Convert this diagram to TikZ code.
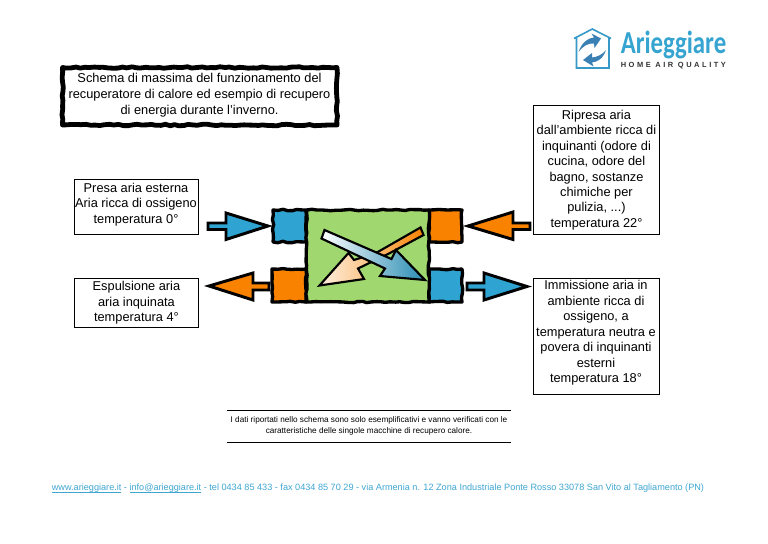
\documentclass[tikz,border=0pt]{standalone}
\usepackage{fontspec}
\setmainfont{Liberation Sans}
\newfontfamily\logofont{Carlito}
\usetikzlibrary{decorations.pathmorphing}
\definecolor{hvblue}{HTML}{2FA4D2}
\definecolor{hvorange}{HTML}{F98200}
\definecolor{hvgreen}{HTML}{A0D76F}
\definecolor{logoblue}{HTML}{35A4D0}
\definecolor{logodark}{HTML}{3B80B4}
\definecolor{footblue}{HTML}{3FA6D2}
\tikzset{
  infobox/.style={draw=black,line width=.7pt,fill=white,inner sep=0pt,align=center,
    font=\fontsize{9.6}{11.6}\selectfont,anchor=north west},
  rough/.style={draw=black,line width=2.5pt,line join=round,
    decorate,decoration={random steps,segment length=3.5pt,amplitude=.55pt}},
  flowarrow/.style={draw=black,line width=2.2pt,line join=miter,miter limit=6},
  innerarrow/.style={draw=black,line width=1.6pt,line join=miter,miter limit=6},
  rulefine/.style={draw=black,line width=.7pt},
  plain/.style={inner sep=0pt,align=center}
}
\pgfmathsetseed{7}
\begin{document}
\begin{tikzpicture}[x=.75pt,y=-.75pt]
\useasboundingbox[fill=white] (0,0) rectangle (768,543);

% logo
\draw[logoblue!70!logodark,line width=1.2pt,line join=miter] (574,38.5) -- (592.3,29) -- (611,38.5) (576.5,37.5) -- (576.5,68) -- (609,68) -- (609,37.5);
\fill[logodark] (578.5,52) .. controls (582,42) and (588,38) .. (594,37.5) -- (591.5,33.5) -- (601,38.5) -- (594.5,48) -- (594,43.5) .. controls (588,43) and (583,46) .. (578.5,52) -- cycle;
\fill[logodark] (606,50) .. controls (603,59) and (597,62) .. (592,62.5) -- (593.5,66.5) -- (583,60) -- (592,53) -- (592,57.5) .. controls (597,57) and (602,55) .. (606,50) -- cycle;
\node[plain,anchor=base west,text=logoblue] (brand) at (620.5,53.5) {\scalebox{.775}[1]{\logofont\bfseries\fontsize{24}{24}\selectfont Arieggiare}};
\node[plain,anchor=base west,text=black!80] (tagline) at (620.5,67) {\addfontfeature{LetterSpace=34}\bfseries\fontsize{5.6}{6}\selectfont HOME AIR QUALITY};

% title
\node[plain,fill=white,minimum width=274,minimum height=57,font=\fontsize{9.6}{12}\selectfont] (title) at (199.5,95) {Schema di massima del funzionamento del\\recuperatore di calore ed esempio di recupero\\di energia durante l’inverno.};
\draw[rough,line width=3.6pt] (62.5,67.5) rectangle (337,125);

% info boxes
\node[infobox,minimum width=124*.75pt,minimum height=55*.75pt] (presa) at (74,179) {};
\node[plain,font=\fontsize{9.6}{11.6}\selectfont] (presatext) at (136,204.5) {Presa aria esterna\\Aria ricca di ossigeno\\temperatura 0°};
\node[infobox,minimum width=124*.75pt,minimum height=49*.75pt] (espulsione) at (74,278) {Espulsione aria\\aria inquinata\\temperatura 4°};
\node[infobox,minimum width=126*.75pt,minimum height=129*.75pt] (ripresa) at (533,105) {Ripresa aria\\dall’ambiente ricca di\\inquinanti (odore di\\cucina, odore del\\bagno, sostanze\\chimiche per\\pulizia, ...)\\temperatura 22°};
\node[infobox,minimum width=126*.75pt,minimum height=116*.75pt] (immissione) at (533,278) {};
\node[plain,font=\fontsize{9.6}{11.6}\selectfont] (immissionetext) at (596,333) {Immissione aria in\\ambiente ricca di\\ossigeno, a\\temperatura neutra e\\povera di inquinanti\\esterni\\temperatura 18°};

% central unit
\draw[rough,fill=hvblue] (273,210) rectangle (306,242);
\draw[rough,fill=hvorange] (429,210) rectangle (462,242);
\draw[rough,fill=hvorange] (272,269) rectangle (306,302);
\draw[rough,fill=hvblue] (429,269) rectangle (462,302);
\draw[rough,fill=hvgreen] (306.5,210) rectangle (429,302);

% inner arrows
\draw[innerarrow,left color=hvorange!12!white,right color=hvorange,middle color=hvorange!50!white,shading angle=90]
  (420.5,227.5) -- (423.5,235) -- (390,253) -- (358,268.5) -- (364,279) -- (319.5,285.5) -- (348.5,253) -- (354,260) -- (376,253) -- cycle;
\draw[innerarrow,left color=white,right color=hvblue!85!black,shading angle=90]
  (324.5,230) -- (391.5,259) -- (396,250) -- (425,280) -- (380,276) -- (385,268.5) -- (321.5,238.5) -- cycle;

% flow arrows
\draw[flowarrow,fill=hvblue] (208,223) -- (226,223) -- (226,213) -- (268,226) -- (226,239.5) -- (226,229.5) -- (208,229.5) -- cycle;
\draw[flowarrow,fill=hvorange] (530,223) -- (513,223) -- (513,212) -- (468,226) -- (513,239.5) -- (513,229.5) -- (530,229.5) -- cycle;
\draw[flowarrow,fill=hvorange] (269,283) -- (253,283) -- (253,273) -- (209,286) -- (253,300) -- (253,290) -- (269,290) -- cycle;
\draw[flowarrow,fill=hvblue] (467,283) -- (484,283) -- (484,273) -- (527,286.5) -- (484,300) -- (484,290) -- (467,290) -- cycle;

% note
\coordinate (noteA) at (227,410); \coordinate (noteB) at (511,410);
\coordinate (noteC) at (227,442); \coordinate (noteD) at (511,442);
\draw[rulefine] (noteA) -- (noteB);
\draw[rulefine] (noteC) -- (noteD);
\node[plain,font=\fontsize{6.15}{8}\selectfont] (note) at (369,426) {I dati riportati nello schema sono solo esemplificativi e vanno verificati con le\\caratteristiche delle singole macchine di recupero calore.};

% footer
\node[plain,text=footblue,font=\fontsize{6.85}{8}\selectfont,anchor=base] (footer) at (378,490.5) {\underline{\smash{www.arieggiare.it}} - \underline{\smash{info@arieggiare.it}} - tel 0434 85 433 - fax 0434 85 70 29 - via Armenia n. 12 Zona Industriale  Ponte Rosso 33078 San Vito al Tagliamento (PN)};
\end{tikzpicture}
\end{document}
